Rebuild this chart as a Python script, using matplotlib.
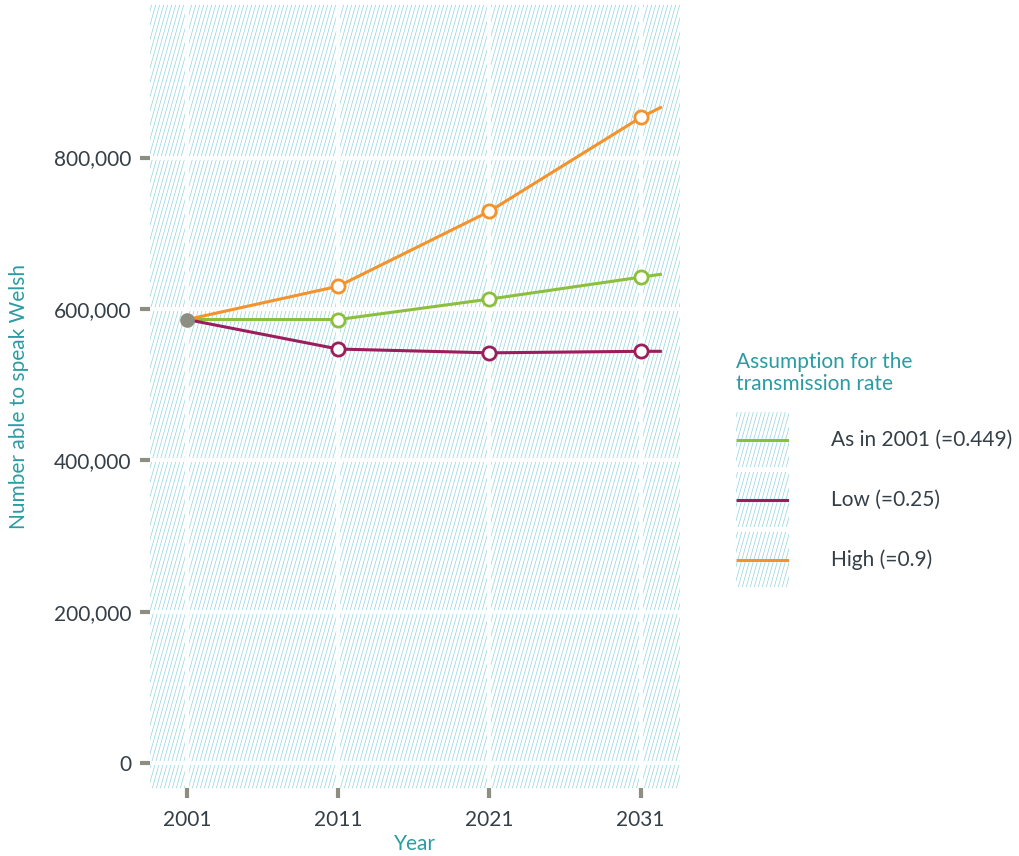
import matplotlib
matplotlib.use("Agg")
import matplotlib.pyplot as plt
from matplotlib.ticker import FuncFormatter
import numpy as np

plt.rcParams['font.family'] = ['Lato', 'DejaVu Sans']

# data
years = [2001, 2011, 2021, 2031]
end_year = 2032.4  # lines run a little past the last projection
series_labels = ["As in 2001 (=0.449)", "Low (=0.25)", "High (=0.9)"]
as_2001 = [586000, 586000, 613000, 642000]
low = [586000, 547000, 542000, 544000]
high = [586000, 630000, 729000, 853000]
end_values = [646000, 544000, 867000]
series_values = [as_2001, low, high]
series_colors = ["#8dbf3e", "#9c1d5b", "#f4922c"]
y_ticks = [0, 200000, 400000, 600000, 800000]

TEAL = "#2a9ca2"
TICK_GREY = "#8b8e80"
LABEL_GREY = "#353f47"
HATCH = np.array([0.62, 0.85, 0.88])
FS = 15


def hatch_image(w, h, spacing=4.0, slope=0.28):
    """Steep diagonal hatch like the original panel background."""
    r, c = np.mgrid[0:h, 0:w]
    d = np.mod(c + slope * r, spacing)
    a = np.clip(1.0 - np.abs(d - 1.0) * 1.1, 0, 1) * 0.9
    img = np.ones((h, w, 3))
    img = img * (1 - a[..., None]) + HATCH * a[..., None]
    return img


W, H = 1020, 856
fig = plt.figure(figsize=(W / 100, H / 100), dpi=100)
left, right, top, bottom = 150, 680, 5, 788
ax = fig.add_axes([left / W, 1 - bottom / H, (right - left) / W, (bottom - top) / H])
ax.patch.set_visible(False)
ax.imshow(hatch_image(right - left, bottom - top), extent=[0, 1, 0, 1],
          transform=ax.transAxes, aspect='auto', interpolation='nearest', zorder=0)

for vals, end, col in zip(series_values, end_values, series_colors):
    ax.plot(years + [end_year], vals + [end], color=col, lw=2.2, zorder=3,
            solid_capstyle='butt')
    ax.plot(years[1:], vals[1:], 'o', ms=9.5, mfc='white', mec=col, mew=2.0, zorder=4)
ax.plot(years[0], as_2001[0], 'o', ms=9.5, color=TICK_GREY, zorder=5)

ax.set_xlim(1998.55, 2033.6)
ax.set_ylim(-33000, 1001600)
ax.set_xticks(years)
ax.set_yticks(y_ticks)
ax.yaxis.set_major_formatter(FuncFormatter(lambda v, p: f"{int(v):,}"))
ax.grid(True, color='white', lw=3.0, alpha=0.9)
for gl in ax.get_xgridlines() + ax.get_ygridlines():
    gl.set_zorder(1)
for s in ax.spines.values():
    s.set_visible(False)
ax.tick_params(axis='both', direction='out', length=7, width=3, color=TICK_GREY,
               labelcolor=LABEL_GREY, labelsize=FS)
ax.tick_params(axis='y', pad=6.5)
ax.tick_params(axis='x', pad=9)
ax.set_xlabel("Year", color=TEAL, fontsize=FS, labelpad=3)
ax.set_ylabel("Number able to speak Welsh", color=TEAL, fontsize=FS, labelpad=18)

# legend drawn by hand so the keys carry the same hatch as the panel
fig.text(736 / W, 1 - 352 / H, "Assumption for the\ntransmission rate",
         color=TEAL, fontsize=FS, va='top', ha='left', linespacing=1.15)
key_w, key_h = 53, 55
for i, (lab, col) in enumerate(zip(series_labels, series_colors)):
    ky = 412 + i * 60
    kax = fig.add_axes([736 / W, 1 - (ky + key_h) / H, key_w / W, key_h / H])
    kax.imshow(hatch_image(key_w, key_h), extent=[0, 1, 0, 1], aspect='auto',
               interpolation='nearest')
    kax.plot([0, 1], [0.5, 0.5], color=col, lw=2.2, solid_capstyle='butt')
    kax.set_xlim(0, 1)
    kax.set_ylim(0, 1)
    kax.axis('off')
    fig.text(831 / W, 1 - (ky + key_h / 2) / H, lab, color=LABEL_GREY,
             fontsize=FS, va='center', ha='left')

fig.savefig("out.png", dpi=100)
